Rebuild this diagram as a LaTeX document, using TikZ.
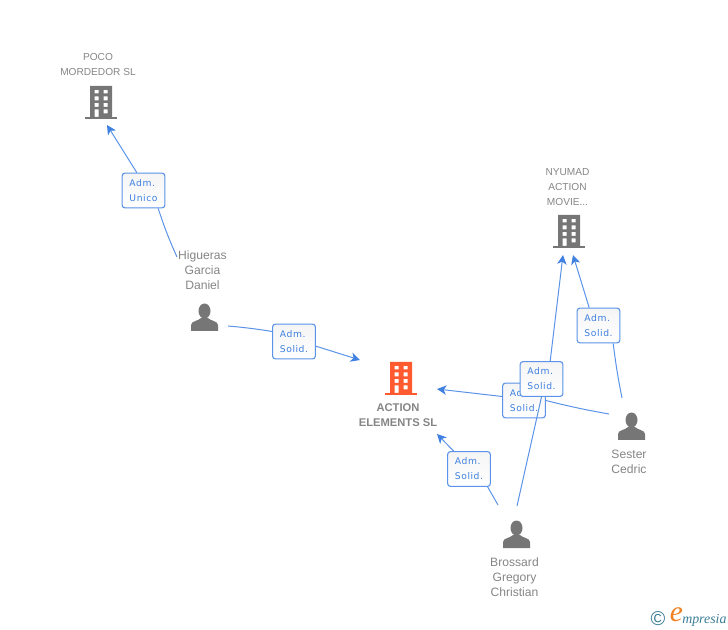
\documentclass[tikz,border=0pt]{standalone}
\usepackage{fontspec}
\setmainfont{Liberation Sans}
\newfontfamily\boxfont[LetterSpace=6]{DejaVu Sans}
\newfontfamily\logofont{Liberation Serif}
\usetikzlibrary{arrows.meta}
\definecolor{linkblue}{HTML}{5A93E8}
\definecolor{tipblue}{HTML}{3F80E0}
\definecolor{labelgrey}{HTML}{858585}
\definecolor{icongrey}{HTML}{767676}
\definecolor{iconorange}{HTML}{FF5A30}
\definecolor{logoteal}{HTML}{3B7C96}
\definecolor{logoorange}{HTML}{F08020}
\tikzset{
    rolebox/.style={
        draw=linkblue,
        line width=0.8pt,
        rounded corners=2pt,
        top color=gray!8,
        bottom color=white,
        minimum width=32pt,
        minimum height=26pt,
        inner sep=0pt,
        align=left,
        text=tipblue,
        font=\boxfont\fontsize{6.9}{11.25}\selectfont
    },
    namelabel/.style={
        text=labelgrey,
        align=center,
        inner sep=0pt,
        font=\fontsize{7.6}{11.25}\selectfont
    },
    personlabel/.style={
        namelabel,
        font=\fontsize{9.1}{11.25}\selectfont
    },
    mainlabel/.style={
        namelabel,
        font=\bfseries\fontsize{8.4}{11.25}\selectfont
    },
    link/.style={
        draw=linkblue,
        line width=0.75pt
    },
    linkarrow/.style={
        link,
        -{Stealth[length=7pt,width=7pt,inset=2pt,color=tipblue]}
    },
    pics/company/.style={
        code={
            \fill[#1,even odd rule] (-11,-17) rectangle (11,14)
                (-6.5,-13) rectangle (-2.5,-9.5) (2.5,-13) rectangle (6.5,-9.5)
                (-6.5,-6.5) rectangle (-2.5,-2.5) (2.5,-6.5) rectangle (6.5,-2.5)
                (-6.5,0) rectangle (-2.5,4) (2.5,0) rectangle (6.5,4)
                (-6.5,6.5) rectangle (-2.5,14) (2.5,6.5) rectangle (6.5,10.5);
            \fill[#1] (-16,14) rectangle (16,16.5);
        }
    },
    pics/person/.style={
        code={
            \fill[icongrey] (0,-7) ellipse (6 and 7.5);
            \fill[icongrey] (-13.5,13) -- (-13.5,7) .. controls (-13.5,3) and (-6,3) .. (-3.5,0)
                -- (3.5,0) .. controls (6,3) and (13.5,3) .. (13.5,7) -- (13.5,13) -- cycle;
        }
    }
}
\begin{document}
\begin{tikzpicture}[x=0.75pt,y=-0.75pt]
    \useasboundingbox (0,0) rectangle (728,630);

    % icons
    \pic at (101,103) {company=icongrey};
    \pic at (569,232) {company=icongrey};
    \pic at (401,379) {company=iconorange};
    \pic at (204.5,318) {person};
    \pic at (631.5,427) {person};
    \pic at (516.5,535) {person};

    % names
    \node[namelabel, name=poco] at (98,65) {POCO\\MORDEDOR SL};
    \node[namelabel, name=nyumad] at (567.5,187) {NYUMAD\\ACTION\\MOVIE...};
    \node[mainlabel, name=action] at (398,415.5) {ACTION\\ELEMENTS SL};
    \node[personlabel, name=daniel] at (202.5,270) {Higueras\\Garcia\\Daniel};
    \node[personlabel, name=cedric] at (629,461.5) {Sester\\Cedric};
    \node[personlabel, name=gregory] at (514.5,577) {Brossard\\Gregory\\Christian};

    % free ends of the links
    \coordinate (tippoco) at (107,125);
    \coordinate (tipaction1) at (360,360);
    \coordinate (tipaction2) at (437,389);
    \coordinate (tipaction3) at (437,434);
    \coordinate (tipnyumad1) at (563,255);
    \coordinate (tipnyumad2) at (573,255);
    \coordinate (fromdaniel1) at (177,257);
    \coordinate (fromdaniel2) at (228,326);
    \coordinate (fromcedric1) at (622,398);
    \coordinate (fromcedric2) at (609,414);
    \coordinate (fromgregory1) at (498,505);
    \coordinate (fromgregory2) at (517,506);

    % role boxes
    \node[rolebox, name=unico] at (143.5,190.5) {Adm.\\Unico};
    \node[rolebox, name=solid1] at (294,341.5) {Adm.\\Solid.};
    \node[rolebox, name=solid2] at (524,400.5) {Adm.\\Solid.};
    \node[rolebox, name=solid3] at (469,469) {Adm.\\Solid.};
    \node[rolebox, name=solid4] at (598.5,325.5) {Adm.\\Solid.};

    \draw[linkarrow] ([xshift=-5pt]unico.north) -- (tippoco);
    \draw[link] (fromdaniel1) to[bend left=3] ([xshift=11pt]unico.south);

    \draw[link] (fromdaniel2) to[bend left=2] ([yshift=7.5pt]solid1.west);
    \draw[linkarrow] ([yshift=-3.5pt]solid1.east) -- (tipaction1);

    \draw[linkarrow] ([yshift=3pt]solid2.west) -- (tipaction2);
    \draw[link] (fromcedric2) to[bend left=2] (solid2.east);

    \draw[linkarrow] ([xshift=-11.5pt]solid3.north) -- (tipaction3);
    \draw[link] (fromgregory1) -- ([xshift=14pt]solid3.south);

    \draw[linkarrow] ([xshift=-7pt]solid4.north) -- (tipnyumad2);
    \draw[link] (fromcedric1) to[bend left=2] ([xshift=11pt]solid4.south);

    % this box lies on top of the link below it
    \draw[link] (fromgregory2) -- (541.7,396);
    \node[rolebox, name=solid5] at (541.5,379) {Adm.\\Solid.};
    \draw[linkarrow] ([xshift=6.5pt]solid5.north) -- (tipnyumad1);

    % logo
    \node[
        text=logoteal,
        inner sep=0pt,
        font=\fontsize{15}{15}\selectfont,
        name=copyrightsign
    ] at (658,619) {©};
    \node[
        text=logoorange,
        inner sep=0pt,
        font=\logofont\itshape\fontsize{22}{22}\selectfont,
        name=logoe
    ] at (676.5,615) {e};
    \node[
        text=logoteal,
        inner sep=0pt,
        anchor=west,
        font=\logofont\itshape\fontsize{10.4}{12}\selectfont,
        name=logotext
    ] at (682,620) {mpresia};
\end{tikzpicture}
\end{document}
